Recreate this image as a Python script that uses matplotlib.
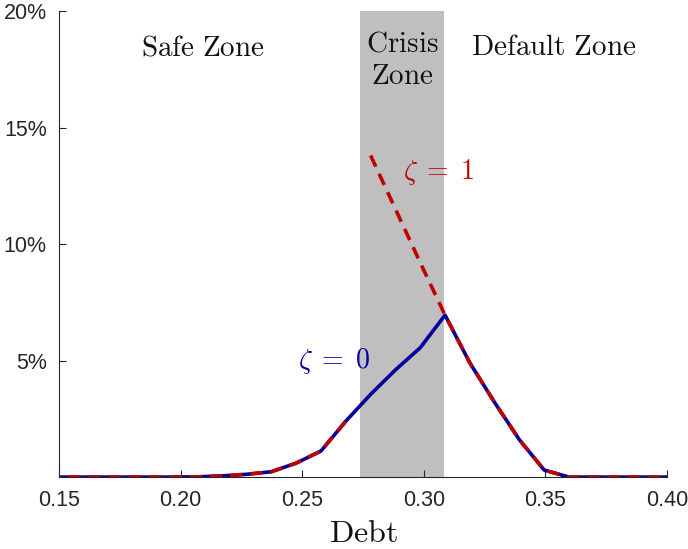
import matplotlib
matplotlib.use("Agg")
import matplotlib.pyplot as plt
import numpy as np

plt.rcParams['mathtext.fontset'] = 'cm'
plt.rcParams['font.family'] = ['Liberation Sans', 'DejaVu Sans']

# debt grid and probability of a crisis (in %)
debt = [0.1455, 0.1557, 0.1659, 0.1761, 0.1863, 0.1965, 0.2067, 0.2169,
        0.2271, 0.2373, 0.2475, 0.2577, 0.2679, 0.2781, 0.2883, 0.2985,
        0.3087, 0.3189, 0.3291, 0.3393, 0.3495, 0.3597, 0.3699, 0.3801,
        0.3903, 0.4005]
prob_zeta0 = [0, 0, 0, 0, 0, 0, 0.01, 0.05,
              0.12, 0.23, 0.60, 1.12, 2.40, 3.55, 4.60, 5.55,
              6.95, 4.90, 3.20, 1.60, 0.30, 0, 0, 0,
              0, 0]
prob_zeta1 = [0, 0, 0, 0, 0, 0, 0.01, 0.05,
              0.12, 0.23, 0.60, 1.12, 2.40, 13.8, 11.5, 9.20,
              6.95, 4.90, 3.20, 1.60, 0.30, 0, 0, 0,
              0, 0]
# zeta=1 jumps where the crisis zone starts
jump = 13

crisis_lo, crisis_hi = 0.2739, 0.3082

xticks = [0.15, 0.20, 0.25, 0.30, 0.35, 0.40]
xticklabels = ['0.15', '0.20', '0.25', '0.30', '0.35', '0.40']
yticks = [5, 10, 15, 20]
yticklabels = ['5%', '10%', '15%', '20%']

blue = '#00009C'
red = '#C00000'
axcol = '#262626'

fig = plt.figure(figsize=(6.88, 5.49), dpi=100)
ax = fig.add_axes([0.086, 0.131, 0.8835, 0.849])

ax.axvspan(crisis_lo, crisis_hi, color='#BFBFBF', lw=0, zorder=0)

ax.plot(debt, prob_zeta0, color=blue, lw=2.6, zorder=2)
x = np.array(debt)
z1 = np.array(prob_zeta1)
for seg in (slice(0, jump), slice(jump, None)):
    ax.plot(x[seg], z1[seg], color=red, lw=2.6, dashes=(3.4, 2.2), zorder=3)

ax.set_xlim(0.15, 0.40)
ax.set_ylim(0, 20)
ax.set_xticks(xticks)
ax.set_xticklabels(xticklabels)
ax.set_yticks(yticks)
ax.set_yticklabels(yticklabels)
ax.tick_params(direction='in', length=5, width=0.8, colors=axcol,
               labelsize=15.5, pad=9)
for s in ('top', 'right'):
    ax.spines[s].set_visible(False)
for s in ('left', 'bottom'):
    ax.spines[s].set_color(axcol)
    ax.spines[s].set_linewidth(0.8)

tk = dict(fontsize=21, color='#111111', ha='center', va='center')
ax.text(0.2091, 18.45, r'$\mathrm{Safe\ Zone}$', **tk)
ax.text(0.2911, 18.6, r'$\mathrm{Crisis}$', **tk)
ax.text(0.2911, 17.2, r'$\mathrm{Zone}$', **tk)
ax.text(0.3535, 18.45, r'$\mathrm{Default\ Zone}$', **tk)

ax.text(0.2632, 5.0, r'$\zeta\;=\;0$', fontsize=20, color=blue,
        ha='center', va='center')
ax.text(0.3060, 13.1, r'$\zeta\;=\;1$', fontsize=20, color=red,
        ha='center', va='center')

ax.set_xlabel(r'$\mathrm{Debt}$', fontsize=23, color='#111111', labelpad=6)

fig.savefig('out.png', dpi=100)
